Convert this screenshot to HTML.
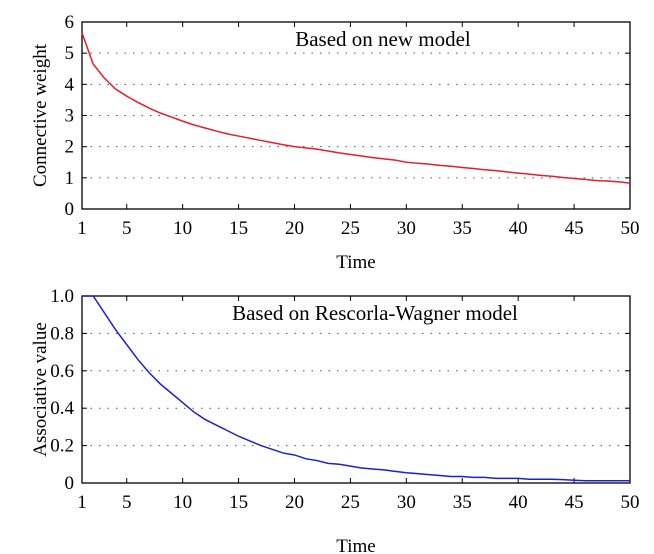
<!DOCTYPE html>
<html><head><meta charset="utf-8"><style>
body{margin:0;background:#fff}
svg{display:block;font-family:"Liberation Serif",serif}
</style></head><body>
<svg id="c" width="654" height="554"></svg>
<script>
const times = Array.from({length:50},(_,i)=>i+1);
const newModel = [5.65,4.65,4.2,3.85,3.62,3.42,3.24,3.08,2.95,2.82,2.7,2.6,2.5,2.41,2.34,2.27,2.2,2.13,2.06,2.0,1.96,1.92,1.86,1.8,1.75,1.7,1.65,1.61,1.57,1.5,1.47,1.44,1.4,1.37,1.33,1.3,1.26,1.23,1.19,1.15,1.12,1.08,1.05,1.01,0.98,0.95,0.91,0.9,0.87,0.83];
const rwModel = [1.0,1.0,0.91,0.82,0.74,0.66,0.59,0.53,0.48,0.43,0.38,0.34,0.31,0.28,0.25,0.225,0.2,0.18,0.16,0.15,0.13,0.12,0.105,0.1,0.09,0.08,0.075,0.07,0.062,0.055,0.05,0.045,0.04,0.035,0.035,0.03,0.03,0.025,0.025,0.025,0.02,0.02,0.02,0.018,0.015,0.012,0.012,0.012,0.012,0.012];
const xTicks = [1,5,10,15,20,25,30,35,40,45,50];
const yTicksTop = [0,1,2,3,4,5,6];
const yTicksBot = [0,0.2,0.4,0.6,0.8,1.0];
const yLabelsBot = ["0","0.2","0.4","0.6","0.8","1.0"];

const svg=document.getElementById('c');
const NS='http://www.w3.org/2000/svg';
function mk(t,a,p){const e=document.createElementNS(NS,t);for(const k in a)e.setAttribute(k,a[k]);(p||svg).appendChild(e);return e;}
const X0=82,X1=630;
const sx=v=>X0+(v-1)/(50-1)*(X1-X0);

function panel(name,top,bottom,ymax,yticks,ylabels,data,color,title,titleX,ytitle,timeY){
  const g=mk('g',{});
  
  
  const sy=v=>bottom-v/ymax*(bottom-top);
  yticks.forEach((t,i)=>{
    if(t>0&&t<ymax){const l=mk('line',{x1:X0,x2:X1,y1:sy(t),y2:sy(t),stroke:'#555','stroke-width':1,'stroke-dasharray':'1.5,7'},g);
      }
    mk('line',{x1:X0,x2:X0+5,y1:sy(t),y2:sy(t),stroke:'#000'},g);
    mk('line',{x1:X1,x2:X1-5,y1:sy(t),y2:sy(t),stroke:'#000'},g);
    const tx=mk('text',{x:X0-8,y:sy(t)+6,'text-anchor':'end','font-size':19},g);
    tx.textContent=ylabels[i];
    
  });
  xTicks.forEach(t=>{
    mk('line',{x1:sx(t),x2:sx(t),y1:bottom,y2:bottom-5,stroke:'#000'},g);
    mk('line',{x1:sx(t),x2:sx(t),y1:top,y2:top+5,stroke:'#000'},g);
    const tx=mk('text',{x:sx(t),y:bottom+25,'text-anchor':'middle','font-size':19},g);
    tx.textContent=t;
    
  });
  const r=mk('rect',{x:X0,y:top,width:X1-X0,height:bottom-top,fill:'none',stroke:'#000','stroke-width':1.3},g);
  
  const p=mk('polyline',{points:data.map((v,i)=>sx(times[i])+','+sy(v)).join(' '),fill:'none',stroke:color,'stroke-width':1.5},g);
  
  const tt=mk('text',{x:titleX,y:top+24,'text-anchor':'middle','font-size':21},g);
  tt.textContent=title;
  const xt=mk('text',{x:356,y:timeY,'text-anchor':'middle','font-size':19},g);
  xt.textContent='Time';
  const yt=mk('text',{x:0,y:0,'text-anchor':'middle','font-size':19,transform:`translate(46,${(top+bottom)/2}) rotate(-90)`},g);
  yt.textContent=ytitle;
}
panel('top-panel',22,209,6,yTicksTop,yTicksTop.map(String),newModel,'#e0202a','Based on new model',383,'Connective weight',268);
panel('bottom-panel',296,483,1,yTicksBot,yLabelsBot,rwModel,'#2020c8','Based on Rescorla-Wagner model',375,'Associative value',552);
</script>
</body></html>
